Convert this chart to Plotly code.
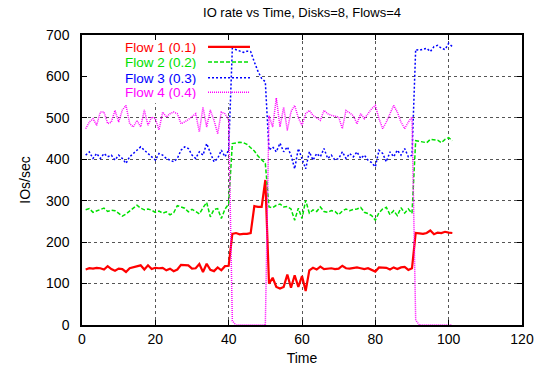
import plotly.graph_objects as go

time = list(range(1, 102))

flow1 = [134, 137, 136, 138, 137, 134, 142, 135, 131, 136, 135, 128, 137, 139, 141, 144, 134, 144, 135, 138,
         137, 138, 132, 136, 130, 134, 145, 145, 144, 136, 137, 147, 128, 148, 133, 130, 139, 132, 142, 143,
         220, 222, 219, 220, 220, 222, 287, 285, 285, 350,
         100, 114, 92, 88, 92, 122, 90, 120, 92, 118, 82, 132, 138, 134, 141, 135, 136, 137, 135, 136,
         143, 137, 136, 138, 139, 137, 135, 137, 133, 129, 139, 139, 138, 134, 139, 135, 139, 140, 133, 137,
         222, 221, 220, 222, 228, 219, 223, 222, 225, 223, 222]

flow2 = [278, 281, 272, 276, 279, 282, 274, 277, 276, 270, 263, 268, 275, 280, 289, 282, 278, 280, 277, 272,
         275, 270, 273, 266, 271, 288, 284, 282, 273, 279, 274, 268, 283, 296, 261, 279, 281, 257, 280, 292,
         438, 440, 441, 440, 436, 428, 420, 408, 398, 390,
         285, 283, 289, 292, 285, 286, 280, 253, 282, 257, 301, 270, 278, 274, 285, 274, 272, 276, 274, 266,
         275, 280, 276, 279, 280, 284, 272, 269, 264, 253, 271, 280, 284, 266, 276, 264, 283, 270, 280, 270,
         445, 443, 442, 440, 448, 447, 446, 440, 448, 452, 445]

flow3 = [410, 418, 402, 414, 402, 414, 406, 410, 398, 410, 402, 390, 406, 414, 422, 430, 422, 414, 406, 398,
         414, 410, 402, 398, 394, 402, 422, 430, 426, 410, 402, 418, 410, 438, 414, 394, 402, 422, 406, 422,
         668, 664, 660, 658, 661, 660, 635, 612, 595, 587,
         422, 430, 418, 439, 418, 430, 410, 377, 426, 402, 377, 418, 398, 414, 406, 426, 402, 410, 398, 402,
         418, 402, 414, 406, 418, 402, 410, 398, 392, 382, 422, 414, 394, 418, 406, 422, 410, 426, 406, 410,
         665, 663, 665, 668, 660, 672, 675, 668, 665, 680, 672]

flow4 = [474, 490, 498, 482, 514, 514, 486, 490, 518, 490, 519, 530, 486, 478, 494, 478, 519, 482, 502, 498,
         471, 514, 502, 510, 514, 510, 486, 490, 496, 502, 510, 466, 526, 478, 519, 494, 462, 514, 510, 494,
         10, 0, 0, 0, 0, 0, 0, 0, 0, 0,
         505, 478, 548, 478, 526, 470, 515, 530, 500, 482, 510, 518, 506, 500, 494, 518, 510, 506, 504, 502,
         474, 518, 512, 505, 486, 510, 498, 510, 522, 530, 498, 474, 490, 510, 530, 514, 490, 474, 490, 502,
         12, 0, 0, 0, 0, 0, 0, 0, 0, 0, 0]

names = ["Flow 1 (0.1)", "Flow 2 (0.2)", "Flow 3 (0.3)", "Flow 4 (0.4)"]
colors = ["#ff0000", "#00e000", "#0000ff", "#ff00ff"]
dashes = ["solid", "4px,2px", "2px,2px", "1px,1px"]
widths = [2.2, 1.5, 1.5, 1.5]
series = [flow1, flow2, flow3, flow4]

X_RANGE = [0, 120]
Y_RANGE = [0, 700]

FONT = "Liberation Sans, Arial, sans-serif"

fig = go.Figure()

# opaque key area hiding the grid (gnuplot style): white filled area under the data traces,
# positioned as fractions of the axis ranges
fx0, fx1, fy0, fy1 = 0.004, 0.389, 0.765, 0.995
bx0 = X_RANGE[0] + fx0 * (X_RANGE[1] - X_RANGE[0])
bx1 = X_RANGE[0] + fx1 * (X_RANGE[1] - X_RANGE[0])
by0 = Y_RANGE[0] + fy0 * (Y_RANGE[1] - Y_RANGE[0])
by1 = Y_RANGE[0] + fy1 * (Y_RANGE[1] - Y_RANGE[0])
fig.add_trace(go.Scatter(x=[bx0, bx1, bx1, bx0, bx0], y=[by0, by0, by1, by1, by0],
                         mode="lines", fill="toself", fillcolor="white",
                         line=dict(width=0, color="white"), hoverinfo="skip", showlegend=False))

for name, ys, c, d, w in zip(names, series, colors, dashes, widths):
    fig.add_trace(go.Scatter(x=time, y=ys, mode="lines", name=name,
                             line=dict(color=c, dash=d, width=w), showlegend=False))

# manual gnuplot-style legend (text on the left, line sample on the right)
leg_y = [0.959, 0.907, 0.853, 0.803]
for name, c, d, w, yy in zip(names, colors, dashes, widths, leg_y):
    fig.add_annotation(x=0.2636, y=yy, xref="paper", yref="paper", text=name,
                       showarrow=False, xanchor="right", yanchor="middle", height=14,
                       font=dict(family=FONT, size=13.5, color=c))
    fig.add_shape(type="line", xref="paper", yref="paper", x0=0.2864, x1=0.3818, y0=yy, y1=yy,
                  line=dict(color=c, dash=d, width=w))

axis_common = dict(showline=True, linecolor="black", linewidth=1.5, mirror="ticks",
                   ticks="inside", ticklen=5, tickcolor="black", tickwidth=1,
                   showgrid=True, gridcolor="#555555", griddash="dot", gridwidth=1,
                   zeroline=False, automargin=False,
                   tickfont=dict(family=FONT, size=14, color="black"))

fig.update_xaxes(range=X_RANGE, dtick=20, title=dict(text="Time", standoff=8,
                 font=dict(family=FONT, size=14, color="black")), **axis_common)
fig.update_yaxes(range=Y_RANGE, dtick=100, ticklabelstandoff=8,
                 title=dict(text="IOs/sec", standoff=12, font=dict(family=FONT, size=14, color="black")),
                 **axis_common)

fig.update_layout(
    width=542, height=372,
    margin=dict(l=82, r=20, t=35, b=47, autoexpand=False),
    paper_bgcolor="white", plot_bgcolor="white",
    title=dict(text="IO rate vs Time, Disks=8, Flows=4", x=0.5, xref="paper",
               y=1 - 12 / 372, yref="container", yanchor="middle", automargin=False,
               font=dict(family=FONT, size=13, color="black")),
    font=dict(family=FONT, color="black"),
)

fig.write_html("out.html", config={"displayModeBar": False},
               post_script="document.body.style.margin='0';document.body.style.overflow='hidden';")
